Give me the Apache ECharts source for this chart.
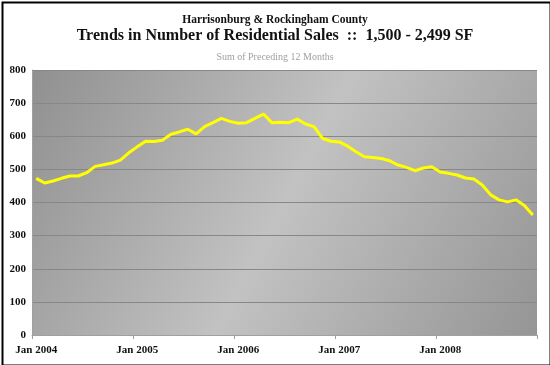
<!DOCTYPE html>
<html>
<head>
<meta charset="utf-8">
<script src="https://cdn.jsdelivr.net/npm/echarts@6/dist/echarts.min.js"></script>
<style>
html,body{margin:0;padding:0;background:#fff;}
#c{width:550px;height:365px;}
</style>
</head>
<body>
<div id="c"></div>
<script>
const years = [2004, 2005, 2006, 2007, 2008];
const monthNames = ['Jan','Feb','Mar','Apr','May','Jun','Jul','Aug','Sep','Oct','Nov','Dec'];
const categories = [];
years.forEach(y => monthNames.forEach(m => categories.push(m + ' ' + y)));

const sales = [
  473, 459, 465, 473, 480, 480, 490, 509, 514, 519, 528, 550,
  568, 585, 584, 588, 606, 613, 621, 607, 629, 641, 654, 645,
  639, 641, 654, 667, 641, 642, 641, 652, 637, 629, 594, 585,
  583, 570, 553, 538, 536, 533, 526, 513, 506, 496, 504, 508,
  492, 488, 483, 474, 471, 453, 423, 408, 402, 408, 391, 362
];

const yTicks = [0, 100, 200, 300, 400, 500, 600, 700, 800];

const titleMain = 'Harrisonburg & Rockingham County';
const titleSub = 'Trends in Number of Residential Sales  ::  1,500 - 2,499 SF';
const titleNote = 'Sum of Preceding 12 Months';

const chart = echarts.init(document.getElementById('c'), null, {renderer: 'canvas'});
const serif = '"Liberation Serif", "DejaVu Serif", serif';

chart.setOption({
  backgroundColor: '#ffffff',
  animation: false,
  title: [
    {text: titleMain, left: 'center', top: 9, textStyle: {fontFamily: serif, fontSize: 11.5, fontWeight: 'bold', color: '#111'}},
    {text: titleSub, left: 'center', top: 23, textStyle: {fontFamily: serif, fontSize: 16, fontWeight: 'bold', color: '#111'}},
    {text: titleNote, left: 'center', top: 47, textStyle: {fontFamily: serif, fontSize: 10, fontWeight: 'normal', color: '#a0a0a0'}}
  ],
  graphic: [
    {type: 'rect', left: 0, top: 0, shape: {x: 1, y: 1, width: 548, height: 363}, style: {fill: 'none', stroke: '#000', lineWidth: 2}, z: 100}
  ],
  grid: {
    left: 32, right: 13, top: 70, bottom: 30,
    show: true,
    borderWidth: 0,
    backgroundColor: {
      type: 'linear', x: 0, y: 0, x2: 1, y2: 1,
      colorStops: [
        {offset: 0, color: '#909090'},
        {offset: 0.5, color: '#c2c2c2'},
        {offset: 1, color: '#959595'}
      ]
    }
  },
  xAxis: {
    type: 'category',
    data: categories,
    boundaryGap: true,
    axisLine: {show: true, lineStyle: {color: '#a0a0a0', width: 1}},
    axisTick: {show: true, interval: 11, length: 4, lineStyle: {color: '#a0a0a0'}},
    axisLabel: {
      interval: 11,
      margin: 10,
      fontFamily: serif, fontSize: 11, fontWeight: 'bold', color: '#111'
    },
    splitLine: {show: false}
  },
  yAxis: {
    type: 'value',
    min: yTicks[0], max: yTicks[yTicks.length - 1], interval: 100,
    axisLine: {show: true, lineStyle: {color: '#a0a0a0', width: 1}},
    axisTick: {show: false},
    axisLabel: {margin: 6, fontFamily: serif, fontSize: 11, fontWeight: 'bold', color: '#111'},
    splitLine: {show: true, lineStyle: {color: '#878787', width: 1}}
  },
  series: [{
    type: 'line',
    data: sales,
    symbol: 'none',
    smooth: false,
    lineStyle: {color: '#ffff00', width: 3},
    itemStyle: {color: '#ffff00'}
  }]
});
</script>
</body>
</html>
